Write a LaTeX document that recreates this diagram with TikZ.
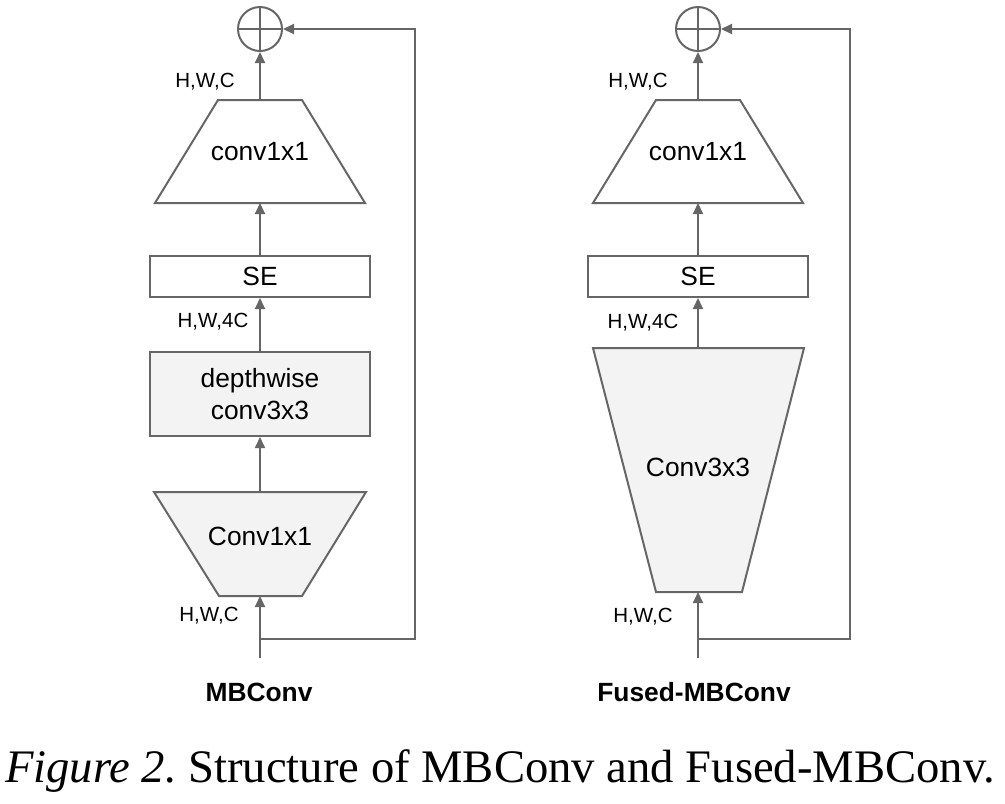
\documentclass[tikz,border=0pt]{standalone}
\usepackage{fontspec}
\setmainfont{Liberation Serif}
\newfontfamily\arialf{Liberation Sans}
\usetikzlibrary{arrows.meta}
\definecolor{lg}{HTML}{666666}
\definecolor{fillg}{HTML}{F3F3F3}
\begin{document}
\begin{tikzpicture}[x=0.03cm,y=-0.03cm,
  shp/.style={draw=lg, line width=1.7pt, line join=miter},
  conn/.style={draw=lg, line width=1.7pt, -{Triangle[length=0.33cm,width=0.3cm]}},
  lab/.style={font=\arialf\fontsize{17.5}{20}\selectfont, text=black, inner sep=0pt},
  boxtxt/.style={font=\arialf\fontsize{22.5}{28}\selectfont, text=black, align=center},
  ttl/.style={font=\arialf\bfseries\fontsize{22.5}{27}\selectfont, text=black, inner sep=0pt},
  rbox/.style={shp, rectangle, minimum width=6.6cm, inner sep=0pt},
  plus/.style={shp, circle, minimum size=1.32cm, inner sep=0pt}]
\useasboundingbox (0,0) rectangle (1005,803);

% ---------------- MBConv ----------------
\node[plus] (p1) at (260,29) {};
\draw[shp] (p1.north) -- (p1.south) (p1.west) -- (p1.east);
\draw[shp] (218,100) -- (302,100) -- (365,203) -- (155,203) -- cycle;
\node[boxtxt] (t1) at (260,152) {conv1x1};
\coordinate (t1top) at (260,100);
\coordinate (t1bot) at (260,203);
\node[rbox, minimum height=1.23cm] (se1) at (260,276.5) {};
\node[boxtxt] at (se1) {SE};
\node[rbox, fill=fillg, minimum height=2.52cm] (dw1) at (260,394) {};
\node[boxtxt] at (dw1) {depthwise\\conv3x3};
\draw[shp, fill=fillg] (154,492) -- (366,492) -- (302,596) -- (219,596) -- cycle;
\node[boxtxt] (c1) at (260,536) {Conv1x1};
\coordinate (c1top) at (260,492);
\coordinate (c1bot) at (260,596);
\coordinate (in1) at (260,658);
\coordinate (j1) at (260,639);
\coordinate (r1) at (415,29);

\draw[conn] (t1top) -- (p1.south);
\draw[conn] (se1.north) -- (t1bot);
\draw[conn] (dw1.north) -- (se1.south);
\draw[conn] (c1top) -- (dw1.south);
\draw[conn] (in1) -- (c1bot);
\draw[conn] (j1) -| (r1) -- (p1.east);

\node[lab] (l1a) at (205,82) {H,W,C};
\node[lab] (l1b) at (213,322) {H,W,4C};
\node[lab] (l1c) at (209,616) {H,W,C};
\node[ttl] (n1) at (259,692) {MBConv};

% ---------------- Fused-MBConv ----------------
\node[plus] (p2) at (698,29) {};
\draw[shp] (p2.north) -- (p2.south) (p2.west) -- (p2.east);
\draw[shp] (656,100) -- (740,100) -- (803,203) -- (593,203) -- cycle;
\node[boxtxt] (t2) at (698,152) {conv1x1};
\coordinate (t2top) at (698,100);
\coordinate (t2bot) at (698,203);
\node[rbox, minimum height=1.23cm] (se2) at (698,276.5) {};
\node[boxtxt] at (se2) {SE};
\draw[shp, fill=fillg] (593,348) -- (804,348) -- (742,592) -- (656,592) -- cycle;
\node[boxtxt] (c2) at (698,467) {Conv3x3};
\coordinate (c2top) at (698,348);
\coordinate (c2bot) at (698,592);
\coordinate (in2) at (698,658);
\coordinate (j2) at (698,639);
\coordinate (r2) at (850,29);

\draw[conn] (t2top) -- (p2.south);
\draw[conn] (se2.north) -- (t2bot);
\draw[conn] (c2top) -- (se2.south);
\draw[conn] (in2) -- (c2bot);
\draw[conn] (j2) -| (r2) -- (p2.east);

\node[lab] (l2a) at (638,82) {H,W,C};
\node[lab] (l2b) at (643,323) {H,W,4C};
\node[lab] (l2c) at (643,617) {H,W,C};
\node[ttl] (n2) at (694,692) {Fused-MBConv};

% ---------------- caption ----------------
\node[font=\fontsize{39.8}{44}\selectfont, inner sep=0pt] (cap) at (500,771) {\textit{Figure 2.}\ Structure of MBConv and Fused-MBConv.};
\end{tikzpicture}
\end{document}
